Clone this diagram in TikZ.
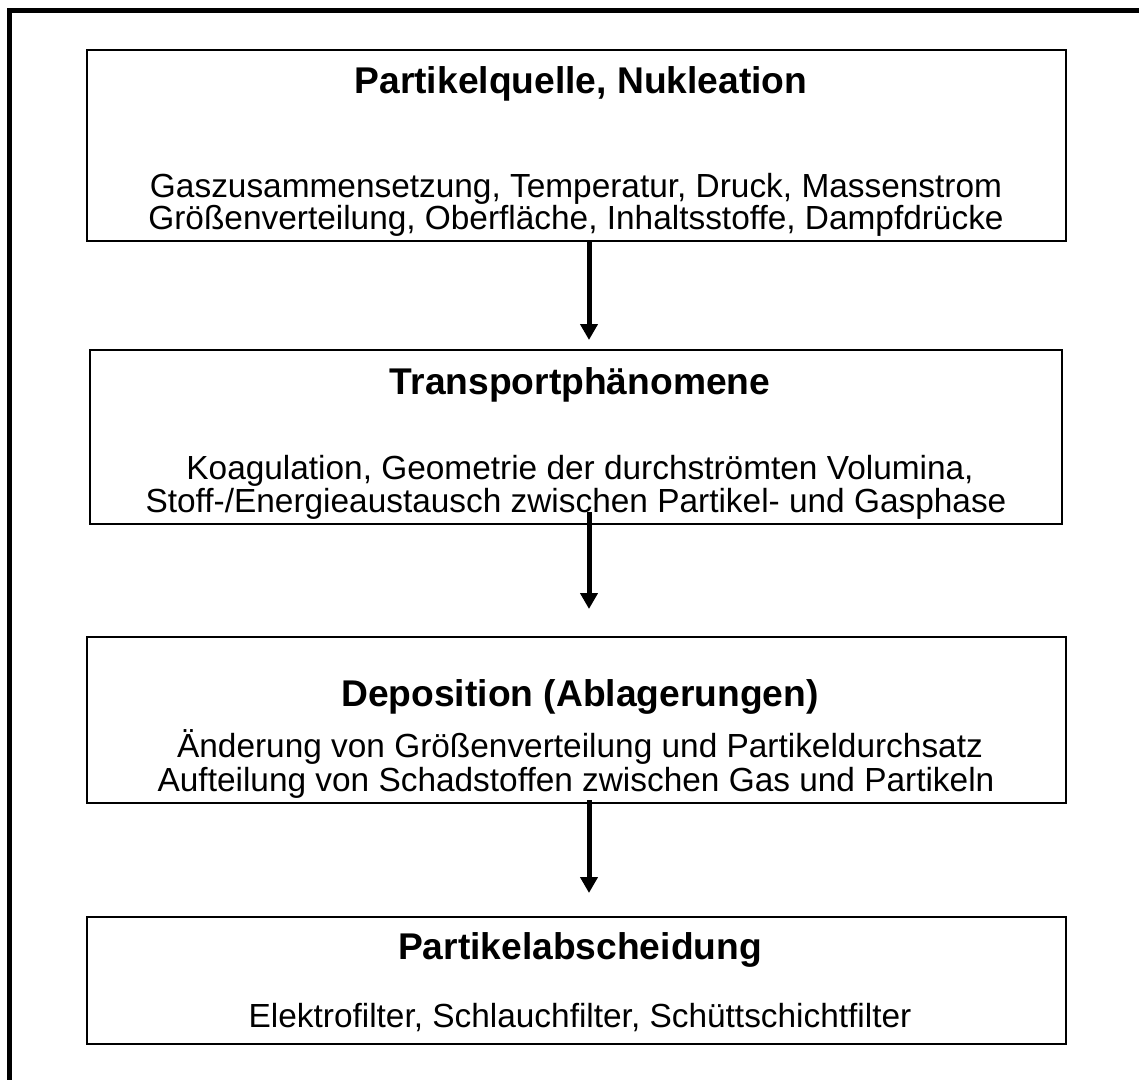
\documentclass[tikz,border=0pt]{standalone}
\usepackage{fontspec}
\setmainfont{Liberation Sans}
\usetikzlibrary{arrows.meta}
\begin{document}
\begin{tikzpicture}[x=1pt,y=-1pt,
  box/.style={draw=black,line width=2pt,inner sep=0pt},
  ttl/.style={anchor=base,inner sep=0pt,font=\fontsize{37.2}{40}\selectfont\bfseries},
  txt/.style={anchor=base,inner sep=0pt,font=\fontsize{33.4}{38}\selectfont},
  flow/.style={line width=5pt,-{Triangle[width=17pt,length=16pt]}}]
\useasboundingbox (0,0) rectangle (1139,1079);
\fill[white] (0,0) rectangle (1139,1079);
\draw[line width=5pt] (9.5,1100) -- (9.5,10) -- (1160,10);
% boxes
\node[box,minimum width=979pt,minimum height=191pt] (b1) at (576.5,145.5) {};
\node[box,minimum width=972pt,minimum height=174pt] (b2) at (576,437) {};
\node[box,minimum width=979pt,minimum height=166pt] (b3) at (576.5,720) {};
\node[box,minimum width=979pt,minimum height=127pt] (b4) at (576.5,980.5) {};
% texts
\node[ttl] (t1) at (581,93) {Partikelquelle, Nukleation};
\node[txt] (l11) at (576,197) {Gaszusammensetzung, Temperatur, Druck, Massenstrom};
\node[txt] (l12) at (576,229) {Größenverteilung, Oberfläche, Inhaltsstoffe, Dampfdrücke};
\node[ttl] (t2) at (580,394) {Transportphänomene};
\node[txt] (l21) at (580,479) {Koagulation, Geometrie der durchströmten Volumina,};
\node[txt] (l22) at (576,512) {Stoff-/Energieaustausch zwischen Partikel- und Gasphase};
\node[ttl] (t3) at (580,706) {Deposition (Ablagerungen)};
\node[txt] (l31) at (580,757) {Änderung von Größenverteilung und Partikeldurchsatz};
\node[txt] (l32) at (576,791) {Aufteilung von Schadstoffen zwischen Gas und Partikeln};
\node[ttl] (t4) at (580,959) {Partikelabscheidung};
\node[txt] (l41) at (580,1027) {Elektrofilter, Schlauchfilter, Schüttschichtfilter};
% arrows
\coordinate (a1s) at (589,241);
\coordinate (a1e) at (589,340);
\coordinate (a2s) at (589,512);
\coordinate (a2e) at (589,609);
\coordinate (a3s) at (589,800);
\coordinate (a3e) at (589,893);
\draw[flow] (a1s) -- (a1e);
\draw[flow] (a2s) -- (a2e);
\draw[flow] (a3s) -- (a3e);
\end{tikzpicture}
\end{document}
